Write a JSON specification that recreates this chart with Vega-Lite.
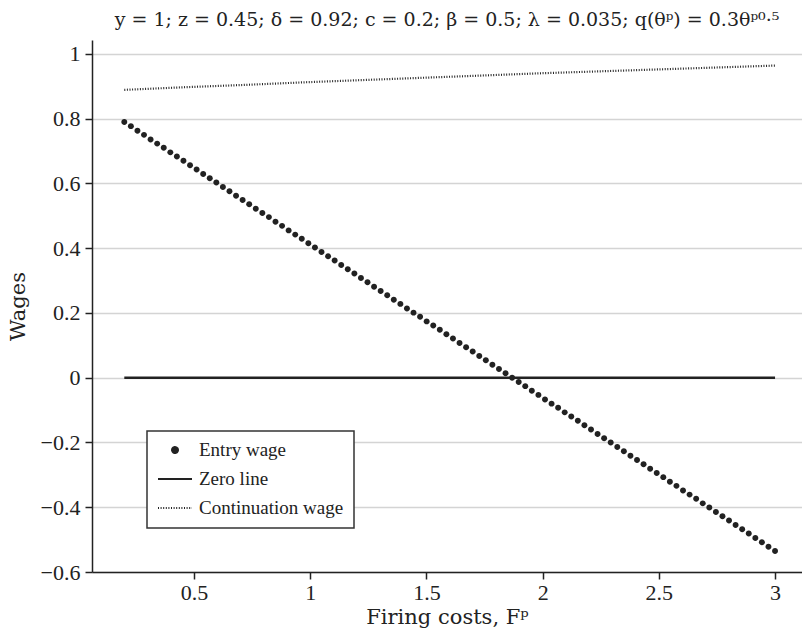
{
  "$schema": "https://vega.github.io/schema/vega-lite/v6.json",
  "width": 710,
  "height": 532,
  "autosize": "none",
  "padding": {"left": 92, "top": 40, "right": 0, "bottom": 68},
  "background": "white",
  "title": {
    "text": "y = 1; z = 0.45; δ = 0.92; c = 0.2; β = 0.5; λ = 0.035; q(θᵖ) = 0.3θᵖ⁰·⁵",
    "font": "DejaVu Serif",
    "fontSize": 19,
    "fontWeight": "normal",
    "color": "#222",
    "anchor": "middle",
    "baseline": "bottom",
    "offset": -9
  },
  "config": {
    "view": {"stroke": null},
    "font": "Liberation Serif",
    "legend": {
      "orient": "none", "legendX": 55, "legendY": 391,
      "padding": 10, "fillColor": "white", "strokeColor": "#333", "strokeWidth": 1.5,
      "labelFont": "Liberation Serif", "labelFontSize": 19, "labelColor": "#222", "labelOffset": 6,
      "rowPadding": 10, "clipHeight": 18,
      "symbolSize": 1156, "symbolStrokeWidth": 2,
      "symbolFillColor": "#222", "symbolStrokeColor": "#222", "symbolOpacity": 1
    }
  },
  "datasets": {
    "entry": [
      {"F": 0.2, "w": 0.79}, {"F": 0.2283, "w": 0.777}, {"F": 0.2566, "w": 0.763}, {"F": 0.2848, "w": 0.75}, {"F": 0.3131, "w": 0.736},
      {"F": 0.3414, "w": 0.723}, {"F": 0.3697, "w": 0.71}, {"F": 0.398, "w": 0.696}, {"F": 0.4263, "w": 0.683}, {"F": 0.4545, "w": 0.67},
      {"F": 0.4828, "w": 0.656}, {"F": 0.5111, "w": 0.643}, {"F": 0.5394, "w": 0.629}, {"F": 0.5677, "w": 0.616}, {"F": 0.596, "w": 0.603},
      {"F": 0.6242, "w": 0.589}, {"F": 0.6525, "w": 0.576}, {"F": 0.6808, "w": 0.562}, {"F": 0.7091, "w": 0.549}, {"F": 0.7374, "w": 0.536},
      {"F": 0.7657, "w": 0.522}, {"F": 0.7939, "w": 0.509}, {"F": 0.8222, "w": 0.496}, {"F": 0.8505, "w": 0.482}, {"F": 0.8788, "w": 0.469},
      {"F": 0.9071, "w": 0.455}, {"F": 0.9354, "w": 0.442}, {"F": 0.9636, "w": 0.429}, {"F": 0.9919, "w": 0.415}, {"F": 1.0202, "w": 0.402},
      {"F": 1.0485, "w": 0.388}, {"F": 1.0768, "w": 0.375}, {"F": 1.1051, "w": 0.362}, {"F": 1.1333, "w": 0.348}, {"F": 1.1616, "w": 0.335},
      {"F": 1.1899, "w": 0.322}, {"F": 1.2182, "w": 0.308}, {"F": 1.2465, "w": 0.295}, {"F": 1.2747, "w": 0.281}, {"F": 1.303, "w": 0.268},
      {"F": 1.3313, "w": 0.255}, {"F": 1.3596, "w": 0.241}, {"F": 1.3879, "w": 0.228}, {"F": 1.4162, "w": 0.214}, {"F": 1.4444, "w": 0.201},
      {"F": 1.4727, "w": 0.188}, {"F": 1.501, "w": 0.174}, {"F": 1.5293, "w": 0.161}, {"F": 1.5576, "w": 0.148}, {"F": 1.5859, "w": 0.134},
      {"F": 1.6141, "w": 0.121}, {"F": 1.6424, "w": 0.107}, {"F": 1.6707, "w": 0.094}, {"F": 1.699, "w": 0.081}, {"F": 1.7273, "w": 0.067},
      {"F": 1.7556, "w": 0.054}, {"F": 1.7838, "w": 0.04}, {"F": 1.8121, "w": 0.027}, {"F": 1.8404, "w": 0.014}, {"F": 1.8687, "w": 0.0},
      {"F": 1.897, "w": -0.013}, {"F": 1.9253, "w": -0.026}, {"F": 1.9535, "w": -0.04}, {"F": 1.9818, "w": -0.053}, {"F": 2.0101, "w": -0.067},
      {"F": 2.0384, "w": -0.08}, {"F": 2.0667, "w": -0.093}, {"F": 2.0949, "w": -0.107}, {"F": 2.1232, "w": -0.12}, {"F": 2.1515, "w": -0.133},
      {"F": 2.1798, "w": -0.147}, {"F": 2.2081, "w": -0.16}, {"F": 2.2364, "w": -0.174}, {"F": 2.2646, "w": -0.187}, {"F": 2.2929, "w": -0.2},
      {"F": 2.3212, "w": -0.214}, {"F": 2.3495, "w": -0.227}, {"F": 2.3778, "w": -0.241}, {"F": 2.4061, "w": -0.254}, {"F": 2.4343, "w": -0.267},
      {"F": 2.4626, "w": -0.281}, {"F": 2.4909, "w": -0.294}, {"F": 2.5192, "w": -0.307}, {"F": 2.5475, "w": -0.321}, {"F": 2.5758, "w": -0.334},
      {"F": 2.604, "w": -0.348}, {"F": 2.6323, "w": -0.361}, {"F": 2.6606, "w": -0.374}, {"F": 2.6889, "w": -0.388}, {"F": 2.7172, "w": -0.401},
      {"F": 2.7455, "w": -0.415}, {"F": 2.7737, "w": -0.428}, {"F": 2.802, "w": -0.441}, {"F": 2.8303, "w": -0.455}, {"F": 2.8586, "w": -0.468},
      {"F": 2.8869, "w": -0.481}, {"F": 2.9152, "w": -0.495}, {"F": 2.9434, "w": -0.508}, {"F": 2.9717, "w": -0.522}, {"F": 3.0, "w": -0.535}
    ],
    "cont": [
      {"F": 0.2, "w": 0.889}, {"F": 0.4545, "w": 0.897}, {"F": 0.7091, "w": 0.904}, {"F": 0.9636, "w": 0.912},
      {"F": 1.2182, "w": 0.919}, {"F": 1.4727, "w": 0.926}, {"F": 1.7273, "w": 0.933}, {"F": 1.9818, "w": 0.94},
      {"F": 2.2364, "w": 0.946}, {"F": 2.4909, "w": 0.952}, {"F": 2.7455, "w": 0.958}, {"F": 3.0, "w": 0.964}
    ],
    "zero": [
      {"F": 0.2, "w": 0}, {"F": 3.0, "w": 0}
    ]
  },
  "layer": [
    {
      "data": {"name": "entry"},
      "mark": {"type": "point", "filled": true, "opacity": 1, "size": 1156},
      "encoding": {
        "x": {
          "field": "F", "type": "quantitative",
          "scale": {"domain": [0.061, 3.116], "nice": false, "zero": false},
          "axis": {
            "values": [0.5, 1, 1.5, 2, 2.5, 3], "format": "~g", "grid": false,
            "domainColor": "#222", "domainWidth": 1.5,
            "tickColor": "#222", "tickSize": 7, "tickWidth": 1.5,
            "labelFont": "Liberation Serif", "labelFontSize": 22, "labelColor": "#222", "labelPadding": 3,
            "title": "Firing costs, Fᵖ", "titleFont": "DejaVu Serif", "titleFontSize": 21,
            "titleFontWeight": "normal", "titleColor": "#222", "titlePadding": 3
          }
        },
        "y": {
          "field": "w", "type": "quantitative",
          "scale": {"domain": [-0.6, 1.043], "nice": false, "zero": false},
          "axis": {
            "values": [-0.6, -0.4, -0.2, 0, 0.2, 0.4, 0.6, 0.8, 1], "format": "~g",
            "grid": true, "gridColor": "#d4d4d4", "gridWidth": 1.5,
            "domainColor": "#222", "domainWidth": 1.5,
            "tickColor": "#222", "tickSize": 7, "tickWidth": 1.5,
            "labelFont": "Liberation Serif", "labelFontSize": 22, "labelColor": "#222", "labelPadding": 5,
            "title": "Wages", "titleFont": "DejaVu Serif", "titleFontSize": 21,
            "titleFontWeight": "normal", "titleColor": "#222", "titlePadding": 12
          }
        },
        "color": {
          "datum": "Entry wage", "type": "nominal",
          "scale": {"domain": ["Entry wage", "Zero line", "Continuation wage"], "range": ["#222", "#222", "#222"]},
          "legend": {"title": null}
        },
        "shape": {
          "datum": "Entry wage", "type": "nominal",
          "scale": {
            "domain": ["Entry wage", "Zero line", "Continuation wage"],
            "range": ["M -0.175 0 A 0.175 0.175 0 1 0 0.175 0 A 0.175 0.175 0 1 0 -0.175 0 Z", "stroke", "stroke"]
          },
          "legend": {"title": null}
        }
      }
    },
    {
      "data": {"name": "zero"},
      "mark": {"type": "line", "strokeWidth": 2.5},
      "encoding": {
        "x": {"field": "F", "type": "quantitative"},
        "y": {"field": "w", "type": "quantitative"},
        "color": {"datum": "Zero line", "type": "nominal"},
        "strokeDash": {
          "datum": "Zero line", "type": "nominal",
          "scale": {"domain": ["Entry wage", "Zero line", "Continuation wage"], "range": [[1, 0], [1, 0], [1, 1.6]]},
          "legend": {"title": null}
        }
      }
    },
    {
      "data": {"name": "cont"},
      "mark": {"type": "line", "strokeWidth": 2.2},
      "encoding": {
        "x": {"field": "F", "type": "quantitative"},
        "y": {"field": "w", "type": "quantitative"},
        "color": {"datum": "Continuation wage", "type": "nominal"},
        "strokeDash": {"datum": "Continuation wage", "type": "nominal"}
      }
    }
  ]
}
